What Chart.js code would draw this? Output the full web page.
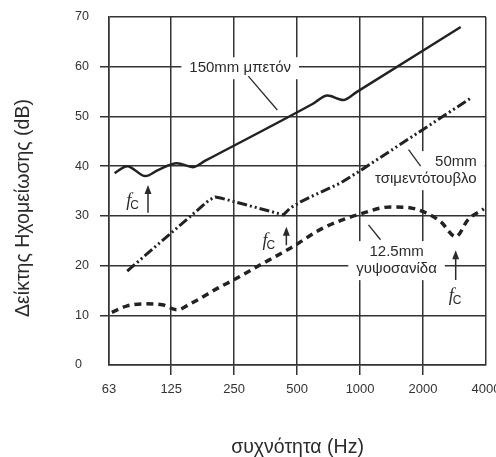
<!DOCTYPE html>
<html lang="el">
<head>
<meta charset="utf-8">
<title>Δείκτης Ηχομείωσης</title>
<script src="https://cdn.jsdelivr.net/npm/chart.js@4.4.0/dist/chart.umd.min.js"></script>
<style>
  html, body { margin: 0; padding: 0; background: #fff; }
  canvas { display: block; }
</style>
</head>
<body>
<canvas id="soundChart" width="496" height="457"></canvas>
<script>
// Axis ticks
const freqTicks = [63, 125, 250, 500, 1000, 2000, 4000];
const dbTicks = [0, 10, 20, 30, 40, 50, 60, 70];

// 150mm concrete (solid)
const concreteFreq = [67, 77, 94, 108, 133, 159, 182, 592, 698, 832, 961, 3028];
const concreteDb = [38.6, 40.0, 38.0, 39.2, 40.6, 39.8, 41.1, 52.5, 54.2, 53.3, 54.9, 68.0];

// 50mm cement block (dash-dot)
const blockFreq = [77, 190, 203, 215, 430, 464, 519, 579, 806, 1029, 3388];
const blockDb = [18.9, 33.2, 33.8, 33.6, 30.2, 31.6, 32.8, 33.8, 36.6, 39.4, 53.7];

// 12.5mm plasterboard (dashed)
const boardFreq = [65, 77, 92, 113, 133, 154, 214, 248, 345, 464, 669, 1006, 1402, 1747, 2016, 2433, 2871, 3277, 3906];
const boardDb = [10.6, 11.9, 12.3, 12.1, 11.1, 12.3, 15.7, 17.1, 20.5, 23.5, 27.6, 30.4, 31.8, 31.6, 30.8, 28.8, 25.8, 29.2, 31.4];

const FONT = "'Liberation Sans', Arial, sans-serif";
const INK = '#2b2b2b';
const LABEL_FONT = '15px ' + FONT;

// Curve labels (anchored in data units)
const curveLabels = [
  { lines: ['150mm μπετόν'], f: 267, db: 59.7, align: 'center', leader: [[292, 58.1], [402, 51.3]] },
  { lines: ['50mm', 'τσιμεντότουβλο'], f: 3611, db: 40.8, align: 'right', leader: [[1705, 43.3], [1947, 40.0]] },
  { lines: ['12.5mm', 'γυψοσανίδα'], f: 1494, db: 22.7, align: 'center', leader: [[1097, 28.2], [1252, 25.2]] }
];

// Coincidence frequency markers
const fcMarks = [
  { f: 96.8, top: 36.2, bottom: 30.6, textF: 82.1, textDb: 33.0 },
  { f: 444, top: 27.8, bottom: 24.1, textF: 368, textDb: 24.9 },
  { f: 2865, top: 23.1, bottom: 17.1, textF: 2865, textDb: 13.8 }
];

const toPoints = (xs, ys) => xs.map((x, i) => ({ x: x, y: ys[i] }));

function labelBox(chart, lb, ctx) {
  const xs = chart.scales.x, ys = chart.scales.y;
  ctx.font = LABEL_FONT;
  const w = Math.max(...lb.lines.map(t => ctx.measureText(t).width));
  const ax = xs.getPixelForValue(lb.f);
  const ay = ys.getPixelForValue(lb.db);
  const left = lb.align === 'right' ? ax - w : ax - w / 2;
  return { x: left - 8, y: ay - 11, w: w + 16, h: (lb.lines.length - 1) * 17 + 22, ax: ax, ay: ay };
}

const annotationPlugin = {
  id: 'annotations',
  beforeDatasetsDraw(chart) {
    const ctx = chart.ctx;
    ctx.save();
    ctx.fillStyle = '#fff';
    curveLabels.forEach(lb => {
      const r = labelBox(chart, lb, ctx);
      ctx.fillRect(r.x, r.y, r.w, r.h);
    });
    ctx.restore();
  },
  afterDatasetsDraw(chart) {
    const ctx = chart.ctx;
    const xs = chart.scales.x, ys = chart.scales.y;
    ctx.save();

    // labels and leader lines
    curveLabels.forEach(lb => {
      const r = labelBox(chart, lb, ctx);
      ctx.fillStyle = INK;
      ctx.textAlign = lb.align;
      ctx.textBaseline = 'middle';
      lb.lines.forEach((t, i) => ctx.fillText(t, r.ax, r.ay + i * 17));
      ctx.strokeStyle = INK;
      ctx.lineWidth = 1.3;
      ctx.beginPath();
      ctx.moveTo(xs.getPixelForValue(lb.leader[0][0]), ys.getPixelForValue(lb.leader[0][1]));
      ctx.lineTo(xs.getPixelForValue(lb.leader[1][0]), ys.getPixelForValue(lb.leader[1][1]));
      ctx.stroke();
    });

    // fc arrows
    fcMarks.forEach(m => {
      const x = xs.getPixelForValue(m.f);
      const yt = ys.getPixelForValue(m.top);
      const yb = ys.getPixelForValue(m.bottom);
      ctx.strokeStyle = INK;
      ctx.fillStyle = INK;
      ctx.lineWidth = 1.5;
      ctx.beginPath();
      ctx.moveTo(x, yb);
      ctx.lineTo(x, yt + 6);
      ctx.stroke();
      ctx.beginPath();
      ctx.moveTo(x, yt);
      ctx.lineTo(x - 3.5, yt + 9);
      ctx.lineTo(x + 3.5, yt + 9);
      ctx.closePath();
      ctx.fill();

      const tx = xs.getPixelForValue(m.textF);
      const ty = ys.getPixelForValue(m.textDb);
      ctx.font = 'italic 18px "Liberation Serif", serif';
      const fw = ctx.measureText('f').width;
      ctx.font = '12px ' + FONT;
      const cw = ctx.measureText('C').width;
      const start = tx - (fw + cw) / 2;
      ctx.textAlign = 'left';
      ctx.textBaseline = 'alphabetic';
      ctx.font = 'italic 18px "Liberation Serif", serif';
      ctx.fillText('f', start, ty + 5);
      ctx.font = '12px ' + FONT;
      ctx.fillText('C', start + fw - 1, ty + 8);
    });

    // y axis title
    ctx.translate(24, 208);
    ctx.rotate(-Math.PI / 2);
    ctx.font = '19.5px ' + FONT;
    ctx.fillStyle = INK;
    ctx.textAlign = 'center';
    ctx.textBaseline = 'middle';
    ctx.fillText('Δείκτης Ηχομείωσης (dB)', 0, 0);
    ctx.restore();
  }
};

const edgeTick = (ctx, last) => (ctx.index === 0 || ctx.index === last) ? 'rgba(0,0,0,0)' : '#333';

const chart = new Chart(document.getElementById('soundChart'), {
  type: 'line',
  data: {
    datasets: [
      {
        label: '150mm μπετόν',
        data: toPoints(concreteFreq, concreteDb),
        borderColor: '#222',
        borderWidth: 2.5,
        pointRadius: 0,
        cubicInterpolationMode: 'monotone',
        fill: false
      },
      {
        label: '50mm τσιμεντότουβλο',
        data: toPoints(blockFreq, blockDb),
        borderColor: '#222',
        borderWidth: 3,
        borderDash: [10, 3, 2, 3, 2, 3],
        pointRadius: 0,
        tension: 0,
        fill: false
      },
      {
        label: '12.5mm γυψοσανίδα',
        data: toPoints(boardFreq, boardDb),
        borderColor: '#222',
        borderWidth: 3.5,
        borderDash: [7, 5],
        pointRadius: 0,
        cubicInterpolationMode: 'monotone',
        fill: false
      }
    ]
  },
  options: {
    responsive: false,
    animation: false,
    layout: { padding: { left: 75, top: 17, right: 10, bottom: 0 } },
    plugins: {
      legend: { display: false },
      tooltip: { enabled: false }
    },
    scales: {
      x: {
        type: 'logarithmic',
        min: 63,
        max: 4000,
        afterBuildTicks: s => { s.ticks = freqTicks.map(v => ({ value: v })); },
        afterFit: s => { s.height = 92; s.paddingLeft = 0; s.paddingRight = 0; },
        ticks: {
          callback: v => String(v),
          color: '#333',
          font: { family: FONT, size: 13 },
          padding: 7,
          maxRotation: 0,
          autoSkip: false
        },
        grid: {
          color: '#333',
          lineWidth: 1.5,
          tickLength: 10,
          tickColor: ctx => edgeTick(ctx, freqTicks.length - 1)
        },
        border: { color: '#333', width: 1.5 },
        title: {
          display: true,
          text: 'συχνότητα (Hz)',
          color: INK,
          font: { family: FONT, size: 19.5, lineHeight: 1 },
          padding: { top: 0, bottom: 0 }
        }
      },
      y: {
        min: 0,
        max: 70,
        afterBuildTicks: s => { s.ticks = dbTicks.map(v => ({ value: v })); },
        afterFit: s => { s.width = 34; s.paddingTop = 0; s.paddingBottom = 0; },
        ticks: {
          crossAlign: 'far',
          color: '#333',
          font: { family: FONT, size: 12.5 }
        },
        grid: {
          color: '#333',
          lineWidth: 1.5,
          tickLength: 9,
          tickColor: ctx => edgeTick(ctx, dbTicks.length - 1)
        },
        border: { color: '#333', width: 1.5 }
      }
    }
  },
  plugins: [annotationPlugin]
});
</script>
</body>
</html>
